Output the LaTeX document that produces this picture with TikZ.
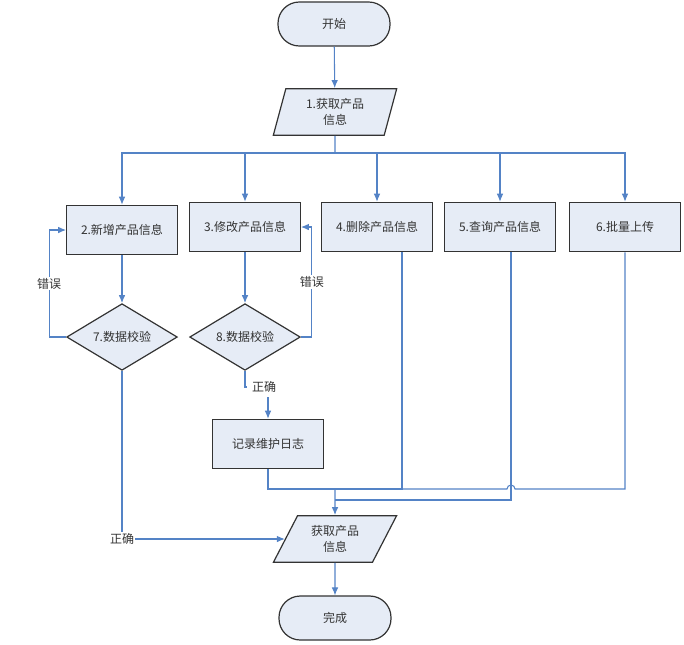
\documentclass[tikz,border=0pt]{standalone}
\usepackage{fontspec}
\setmainfont{Noto Sans CJK SC}
\usetikzlibrary{shapes.geometric,arrows.meta,calc}
\definecolor{boxfill}{RGB}{230,236,246}
\definecolor{linkblue}{RGB}{84,131,198}
\definecolor{textgray}{RGB}{51,51,51}

\begin{document}
\begin{tikzpicture}[x=0.75pt,y=-0.75pt,font=\fontsize{9}{12}\selectfont,text=textgray]
    \tikzstyle{shape base}=[draw=black!80,fill=boxfill,line width=0.9pt,inner sep=2pt]
    \tikzstyle{terminal}=[shape base,rectangle,rounded corners=16pt,minimum width=84pt,minimum height=33pt]
    \tikzstyle{io}=[shape base,trapezium,trapezium stretches=true,minimum width=93pt,minimum height=35pt,align=center]
    \tikzstyle{process}=[shape base,rectangle,minimum width=83pt,minimum height=37pt]
    \tikzstyle{decision}=[shape base,diamond,aspect=1.66,minimum width=83pt,minimum height=50pt,inner sep=0pt]
    \tikzstyle{link}=[draw=linkblue,line width=0.8pt]
    \tikzstyle{arrow}=[link,-{Latex[length=6pt,width=5pt]}]
    \tikzstyle{tag}=[fill=white,inner sep=1pt]

    \useasboundingbox (0,0) rectangle (684,644);

    % Draw the start and the first input
    \node[terminal] (start) at (334,24) {开始};
    \node[io,trapezium left angle=76,trapezium right angle=104] (get) at (335,112) {1.获取产品\\信息};
    \coordinate (bus) at (335,153);

    % Draw the operation boxes
    \node[process] (add) at (122,230) {2.新增产品信息};
    \node[process] (edit) at (245,227) {3.修改产品信息};
    \node[process] (del) at (377,227) {4.删除产品信息};
    \node[process] (query) at (500,227) {5.查询产品信息};
    \node[process] (upload) at (625,227) {6.批量上传};

    % Draw the checks and the log
    \node[decision] (check7) at (122,337) {7.数据校验};
    \node[decision] (check8) at (245,337) {8.数据校验};
    \node (ok8) at (264,387) {正确};
    \node[process] (log) at (268,444) {记录维护日志};

    % Draw the output and the end
    \coordinate (join) at (335,489);
    \coordinate (join2) at (335,500);
    \coordinate (delout) at ($(del.south)+(25,0)$);
    \coordinate (queryout) at ($(query.south)+(11,0)$);
    \coordinate (hop) at (515,489);
    \node[io,trapezium left angle=62,trapezium right angle=118] (fetch) at (335,539) {获取产品\\信息};
    \node[terminal] (done) at (335,618) {完成};

    % Connect the start to every operation
    \draw[arrow] (start) -- (get);
    \draw[link] (get) -- (bus);
    \foreach \dest in {add,edit,del,query,upload}
        \draw[arrow] (bus) -| (\dest);

    % Connect the operations with their checks
    \draw[arrow] (add) -- (check7);
    \draw[arrow] (edit) -- (check8);
    \draw[arrow] (check7.west) -- ++(-17,0) |- node[tag,pos=0.25] {错误} (add.west);
    \draw[arrow] (check8.east) -- ++(11,0) |- node[tag,pos=0.25] {错误} (edit.east);
    \draw[link] (check8.south) |- (ok8.west);
    \draw[arrow] (log.north |- ok8.south) -- (log);

    % Bring every branch to the output
    \draw[link] (log) |- (join);
    \draw[link] (delout) |- (join);
    \draw[link] (queryout) |- (join2);
    \draw[link] (upload) |- (hop) arc[start angle=0,end angle=-180,radius=4] -- (delout |- join);
    \draw[arrow] (join) -- (fetch);
    \draw[arrow] (check7) |- node[tag,pos=0.5] {正确} (fetch);
    \draw[arrow] (fetch) -- (done);
\end{tikzpicture}
\end{document}
